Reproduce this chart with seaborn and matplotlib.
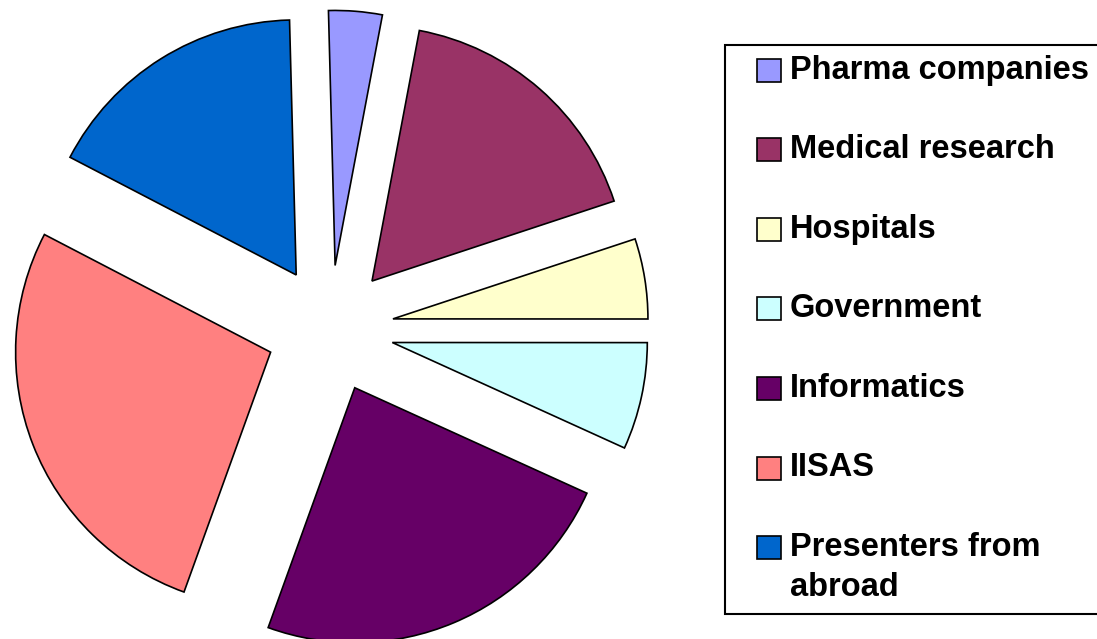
import matplotlib
matplotlib.use("Agg")
import matplotlib.pyplot as plt
from matplotlib.patches import Rectangle
import seaborn as sns

# participants by group
groups = ["Pharma companies", "Medical research", "Hospitals", "Government",
          "Informatics", "IISAS", "Presenters from\nabroad"]
counts = [2, 10, 3, 4, 14, 16, 10]
colors = ["#9999FF", "#993366", "#FFFFCC", "#CCFFFF", "#660066", "#FF8080", "#0066CC"]

sns.set_style("white")
plt.rcParams['font.family'] = ['Liberation Sans', 'DejaVu Sans']

W, H = 1097, 639
fig = plt.figure(figsize=(W / 100, H / 100), dpi=100)

# pie axes: 1 data unit = 255 px, centre at (330, 329) from top-left
R = 255.0
cx, cy = 330.0, 329.0
ax = fig.add_axes([0, 0, 1, 1])
palette = sns.color_palette(colors)
ax.pie(counts, colors=palette, startangle=91.5, counterclock=False,
       explode=[0.25] * len(counts),
       wedgeprops=dict(edgecolor="black", linewidth=1.2))
ax.set_aspect("auto")
ax.set_xlim(-cx / R, (W - cx) / R)
ax.set_ylim(-(H - cy) / R, cy / R)
ax.axis("off")

# legend drawn in pixel coordinates
lg = fig.add_axes([0, 0, 1, 1])
lg.set_xlim(0, W)
lg.set_ylim(H, 0)
lg.axis("off")
lg.add_patch(Rectangle((725, 45), 400, 569, facecolor="white",
                       edgecolor="black", linewidth=1.5, clip_on=False))
y0, step = 70, 79.6
for i, (name, col) in enumerate(zip(groups, colors)):
    y = y0 + i * step
    lg.add_patch(Rectangle((757, y - 11.5), 24, 23, facecolor=col,
                           edgecolor="black", linewidth=1.2))
    lines = name.split("\n")
    for j, ln in enumerate(lines):
        lg.text(790, y + j * 40, ln, fontsize=23.5, fontweight="bold",
                va="center", ha="left", color="black")

fig.savefig("out.png", dpi=100)
